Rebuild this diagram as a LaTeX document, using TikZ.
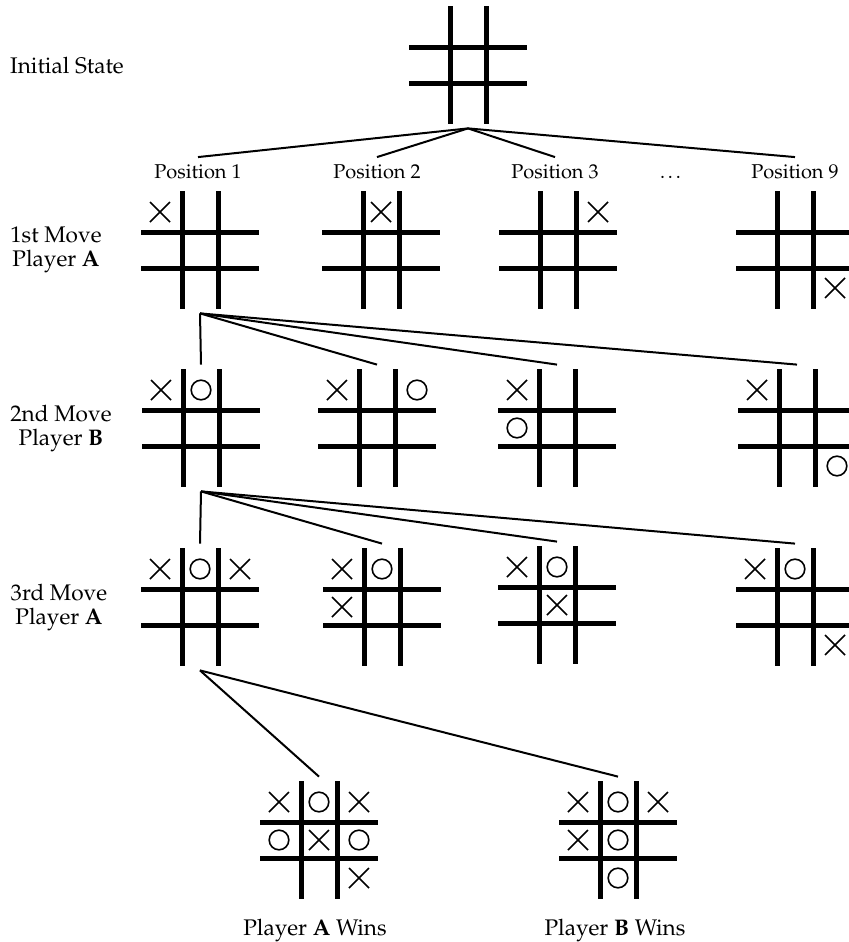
\documentclass[tikz,border=0pt]{standalone}
\usepackage[T1]{fontenc}
\usepackage{mathpazo}
\usepackage{tikz}
\usetikzlibrary{positioning}

\tikzset{
	grid/.style   = {line width=2.5pt},
	xo/.style     = {line width=0.8pt},
	link/.style   = {line width=1pt},
	board/.style  = {minimum size=63pt, inner sep=0pt},
	movelabel/.style = {align=center, font=\fontsize{11.3}{12}\selectfont},
	poslabel/.style  = {anchor=base, font=\fontsize{10}{12}\selectfont}
}

% a board: name, centre, marks
\newcommand{\tttboard}[3]{%
	\node[board] (#1) at (#2) {};
	\begin{scope}[shift={(#2)}]
		\draw[grid] (-18,-59) -- (-18,59) (18,-59) -- (18,59)
		            (-59,-18) -- (59,-18) (-59,18) -- (59,18);
		#3
	\end{scope}}
% crosses and noughts in cell (col,row), both from -1 to 1
\newcommand{\xcell}[2]{\draw[xo] (#1*40-10,#2*38-10) -- (#1*40+10,#2*38+10)
	(#1*40-10,#2*38+10) -- (#1*40+10,#2*38-10);}
\newcommand{\ocell}[2]{\draw[xo] (#1*40,#2*38) circle (4.9pt);}

\begin{document}
\begin{tikzpicture}[x=0.5pt, y=-0.5pt]
	\useasboundingbox (0,0) rectangle (848,942);

	% rows
	\node[movelabel] (l0) at (67,66)  {Initial State};
	\node[movelabel] (l1) at (56,250) {1st Move\\Player \textbf{A}};
	\node[movelabel] (l2) at (61,429) {2nd Move\\Player \textbf{B}};
	\node[movelabel] (l3) at (59,608) {3rd Move\\Player \textbf{A}};

	\tttboard{s0}{468,65}{}

	\node[poslabel] (p1) at (198,178) {Position 1};
	\node[poslabel] (p2) at (377,178) {Position 2};
	\node[poslabel] (p3) at (555,178) {Position 3};
	\node[poslabel] (pd) at (672,178) {\ldots};
	\node[poslabel] (p9) at (795,178) {Position 9};
	\foreach \t in {p1,p2,p3,p9}
		\draw[link] (s0.south) -- (\t.north);

	\tttboard{a1}{200,250}{\xcell{-1}{-1}}
	\tttboard{a2}{381,250}{\xcell{0}{-1}}
	\tttboard{a3}{558,250}{\xcell{1}{-1}}
	\tttboard{a9}{795,250}{\xcell{1}{1}}

	\tttboard{b1}{201,428}{\xcell{-1}{-1}\ocell{0}{-1}}
	\tttboard{b2}{377,428}{\xcell{-1}{-1}\ocell{1}{-1}}
	\tttboard{b3}{557,428}{\xcell{-1}{-1}\ocell{-1}{0}}
	\tttboard{b4}{797,428}{\xcell{-1}{-1}\ocell{1}{1}}
	\foreach \t in {b1,b2,b3,b4}
		\draw[link] (a1.south) -- (\t.north);

	\tttboard{c1}{200,607}{\xcell{-1}{-1}\ocell{0}{-1}\xcell{1}{-1}}
	\tttboard{c2}{382,607}{\xcell{-1}{-1}\ocell{0}{-1}\xcell{-1}{0}}
	\tttboard{c3}{557,605}{\xcell{-1}{-1}\ocell{0}{-1}\xcell{0}{0}}
	\tttboard{c4}{795,607}{\xcell{-1}{-1}\ocell{0}{-1}\xcell{1}{1}}
	\foreach \t in {c1,c2,c3,c4}
		\draw[link] (b1.south) -- (\t.north);

	\tttboard{wa}{319,840}{\xcell{-1}{-1}\ocell{0}{-1}\xcell{1}{-1}
		\ocell{-1}{0}\xcell{0}{0}\ocell{1}{0}\xcell{1}{1}}
	\tttboard{wb}{618,840}{\xcell{-1}{-1}\ocell{0}{-1}\xcell{1}{-1}
		\xcell{-1}{0}\ocell{0}{0}\ocell{0}{1}}
	\foreach \t in {wa,wb}
		\draw[link] (c1.south) -- (\t.north);

	\node[movelabel, anchor=base] (wina) at (315,935) {Player \textbf{A} Wins};
	\node[movelabel, anchor=base] (winb) at (615,935) {Player \textbf{B} Wins};
\end{tikzpicture}
\end{document}
